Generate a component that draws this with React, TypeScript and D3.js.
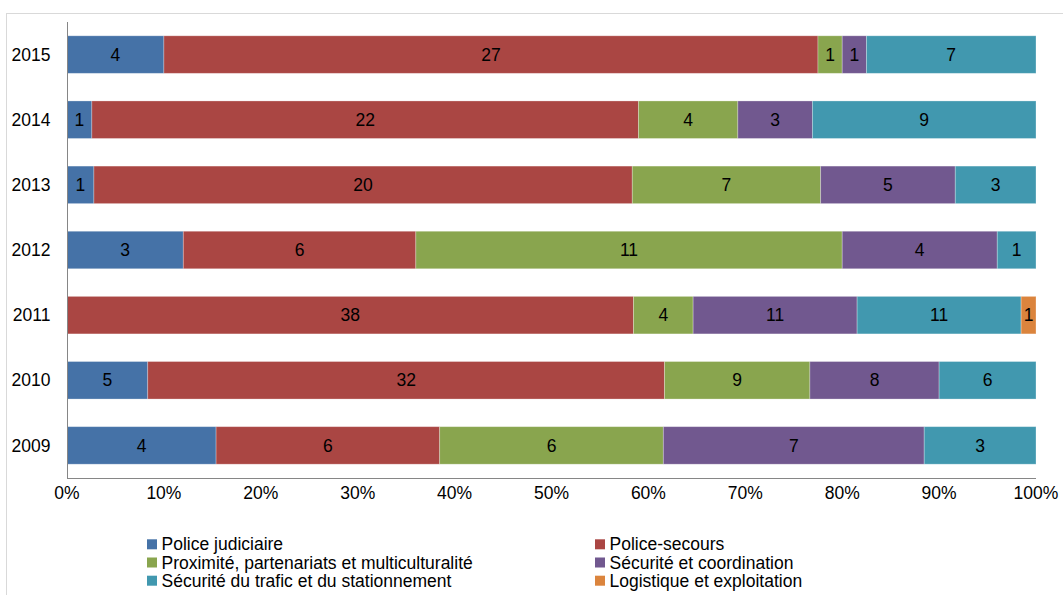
import React from "react";
import * as d3 from "d3";

const years = ["2015", "2014", "2013", "2012", "2011", "2010", "2009"];
const seriesNames = [
  "Police judiciaire",
  "Police-secours",
  "Proximité, partenariats et multiculturalité",
  "Sécurité et coordination",
  "Sécurité du trafic et du stationnement",
  "Logistique et exploitation",
];
const seriesColors = ["#4572A7", "#AA4643", "#89A54E", "#71588F", "#4198AF", "#DB843D"];
const policeJudiciaire = [4, 1, 1, 3, 0, 5, 4];
const policeSecours = [27, 22, 20, 6, 38, 32, 6];
const proximite = [1, 4, 7, 11, 4, 9, 6];
const securiteCoord = [1, 3, 5, 4, 11, 8, 7];
const securiteTrafic = [7, 9, 3, 1, 11, 6, 3];
const logistique = [0, 0, 0, 0, 1, 0, 0];
const xTicks = [0, 0.1, 0.2, 0.3, 0.4, 0.5, 0.6, 0.7, 0.8, 0.9, 1];

const allSeries = [policeJudiciaire, policeSecours, proximite, securiteCoord, securiteTrafic, logistique];

export default function App() {
  const W = 1063, H = 595;
  const left = 67, right = 1036, top = 22, bottom = 478;
  const x = d3.scaleLinear().domain([0, 1]).range([left, right]);
  const y = d3.scaleBand().domain(years).range([top, bottom]).paddingInner(0.424).paddingOuter(0.212);
  const font = "'Liberation Sans', Arial, sans-serif";
  const fs = 17.5;

  const rows = years.map((yr, i) => {
    const vals = allSeries.map((s) => s[i]);
    const total = d3.sum(vals);
    let acc = 0;
    return vals.map((v, k) => {
      const x0 = acc / total;
      acc += v;
      return { yr, k, v, x0, x1: acc / total };
    });
  });

  const legendPos = [
    [147, 544.3], [595, 544.3],
    [147, 562.5], [595, 562.5],
    [147, 580.7], [595, 580.7],
  ];

  return (
    <svg width={W} height={H} style={{ position: "absolute", left: 0, top: 0 }} fontFamily={font}>
      <rect x={0} y={0} width={W} height={H} fill="#fff" />
      <line x1={6.5} y1={13} x2={6.5} y2={H} stroke="#d9d9d9" />
      <line x1={6.5} y1={13.5} x2={W} y2={13.5} stroke="#d9d9d9" />
      {rows.map((segs) =>
        segs.filter((s) => s.v > 0).map((s) => (
          <g key={s.yr + s.k}>
            <rect
              x={x(s.x0)}
              y={y(s.yr)!}
              width={x(s.x1) - x(s.x0)}
              height={y.bandwidth()}
              fill={seriesColors[s.k]}
              stroke="#ffffff"
              strokeOpacity={0.35}
              strokeWidth={0.8}
            />
            <text
              x={(x(s.x0) + x(s.x1)) / 2}
              y={y(s.yr)! + y.bandwidth() / 2}
              dy="0.35em"
              textAnchor="middle"
              fontSize={fs}
              fill="#000"
            >
              {s.v}
            </text>
          </g>
        ))
      )}
      <line x1={left + 0.5} y1={top} x2={left + 0.5} y2={bottom} stroke="#868686" />
      <line x1={left} y1={bottom + 0.5} x2={right} y2={bottom + 0.5} stroke="#868686" />
      {years.map((yr) => (
        <text key={yr} x={50.5} y={y(yr)! + y.bandwidth() / 2} dy="0.35em" textAnchor="end" fontSize={fs} fill="#000">
          {yr}
        </text>
      ))}
      {xTicks.map((t) => (
        <text key={t} x={x(t)} y={493} dy="0.35em" textAnchor="middle" fontSize={fs} fill="#000">
          {d3.format(".0%")(t)}
        </text>
      ))}
      {seriesNames.map((n, k) => (
        <g key={n}>
          <rect x={legendPos[k][0]} y={legendPos[k][1] - 5} width={10} height={10} fill={seriesColors[k]} />
          <text x={legendPos[k][0] + 14.5} y={legendPos[k][1]} dy="0.35em" fontSize={fs} fill="#000">
            {n}
          </text>
        </g>
      ))}
    </svg>
  );
}
